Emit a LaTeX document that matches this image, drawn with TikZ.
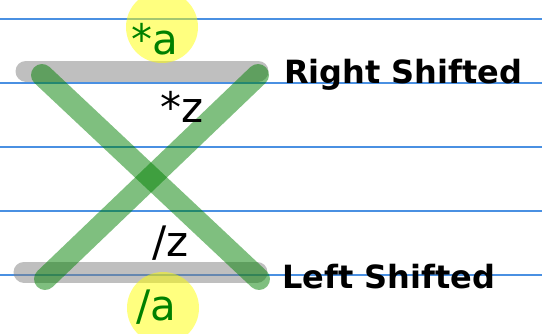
\documentclass[tikz,border=0pt]{standalone}
\usepackage{fontspec}
\setmainfont{DejaVu Sans}
\definecolor{guide}{RGB}{74,144,226}
\definecolor{mplgreen}{RGB}{0,128,0}
\definecolor{mplgray}{RGB}{128,128,128}
\definecolor{mplyellow}{RGB}{255,255,0}
\begin{document}
\begin{tikzpicture}[x=1pt,y=-1pt,
  guideline/.style={draw=guide,line width=1.2pt},
  bar/.style={draw=mplgray,draw opacity=0.5,line width=21pt,line cap=round},
  cross/.style={draw=mplgreen,draw opacity=0.5,line width=22pt,line cap=round},
  hilite/.style={circle,fill=mplyellow,fill opacity=0.5,minimum size=72pt,inner sep=0pt},
  lbl/.style={anchor=base west,inner sep=0pt,font=\fontsize{42}{50}\selectfont},
  side/.style={anchor=base west,inner sep=0pt,font=\fontsize{32}{38}\selectfont\bfseries},
]
\useasboundingbox (0,0) rectangle (542,333);
\clip (0,0) rectangle (542,333);
% guide lines
\foreach \y/\n in {19/1,83/2,147/3,211/4,275/5}{
  \coordinate (gl\n) at (0,\y);
  \coordinate (gr\n) at (542,\y);
  \draw[guideline] (gl\n) -- (gr\n);
}
% bars
\coordinate (tbL) at (26,71);
\coordinate (tbR) at (258,71);
\coordinate (bbL) at (24,272);
\coordinate (bbR) at (257,272);
\draw[bar] (tbL) -- (tbR);
\draw[bar] (bbL) -- (bbR);
% green crossing lines
\coordinate (cTL) at (42,75);
\coordinate (cTR) at (258,75);
\coordinate (cBL) at (45,279);
\coordinate (cBR) at (259,279);
\draw[cross] (cTL) -- (cBR);
\draw[cross] (cTR) -- (cBL);
% highlight circles
\node[hilite] (topc) at (162,27) {};
\node[hilite] (botc) at (163,308) {};
% labels
\node[lbl,text=mplgreen] (sa) at (131,54) {*a};
\node[lbl,text=mplgreen] (la) at (136,320) {/a};
\node[lbl] (sz) at (160,122) {*z};
\node[lbl] (lz) at (152,256) {/z};
\node[side] (rs) at (284,83) {Right Shifted};
\node[side] (ls) at (282,288) {Left Shifted};
\end{tikzpicture}
\end{document}
